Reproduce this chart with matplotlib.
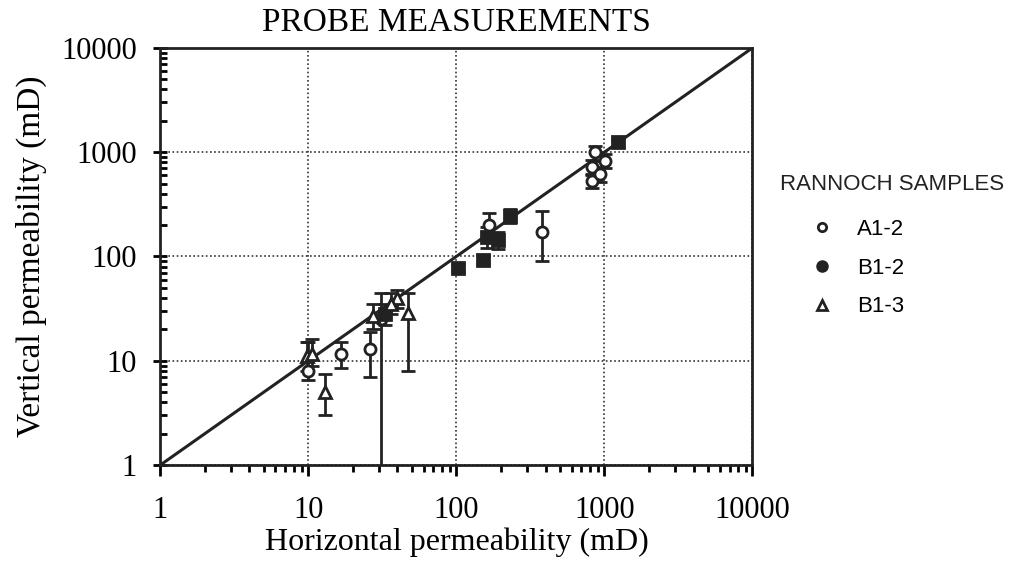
import numpy as np
import matplotlib.pyplot as plt
from matplotlib.lines import Line2D
from matplotlib.ticker import LogLocator, NullFormatter, FixedLocator

# horizontal k, vertical k, lower and upper bar ends (mD)
a12_x = [10, 16.5, 26, 31, 165, 380, 870, 1015, 830, 830, 930]
a12_y = [8, 11.5, 13, 25, 200, 170, 1000, 830, 720, 530, 620]
a12_lo = [6.5, 8.5, 7, 0.5, 150, 90, 820, 700, 600, 450, 520]
a12_hi = [15, 15, 19, 45, 260, 270, 1150, 950, 850, 620, 720]

b12_x = [103, 152, 160, 190, 232, 1240, 33]
b12_y = [78, 93, 152, 145, 245, 1250, 28]
b12_lo = [72, 85, 120, 118, 210, 1120, 22]
b12_hi = [84, 104, 190, 170, 285, 1350, 35]

b13_x = [9.8, 10.6, 13, 27.5, 40, 47, 36]
b13_y = [11, 11.5, 5, 27, 40, 29, 35]
b13_lo = [8, 9, 3, 20, 32, 8, 28]
b13_hi = [15, 16, 7.5, 35, 48, 45, 45]

ticks = [1, 10, 100, 1000, 10000]
tick_labels = ['1', '10', '100', '1000', '10000']

serif = 'Liberation Serif'
sans = 'Liberation Sans'

fig = plt.figure(figsize=(10.21, 5.63), dpi=100)
ax = fig.add_axes([0.157, 0.174, 0.580, 0.741])
ax.set_xscale('log')
ax.set_yscale('log')
ax.set_xlim(1, 10000)
ax.set_ylim(1, 10000)

ax.grid(True, which='major', linestyle=(0, (1, 1.5)), color='#333333', lw=1.2)
ax.plot([1, 10000], [1, 10000], color='#222222', lw=2.2, zorder=2)


def draw(x, y, lo, hi, marker, face):
    x = np.array(x)
    y = np.array(y)
    err = [y - np.array(lo), np.array(hi) - y]
    ax.errorbar(x, y, yerr=err, fmt='none', ecolor='#222222', elinewidth=2,
                capsize=5, capthick=2, zorder=3)
    ax.plot(x, y, linestyle='none', marker=marker, markersize=8,
            markerfacecolor=face, markeredgecolor='#222222', markeredgewidth=2, zorder=4)


draw(a12_x, a12_y, a12_lo, a12_hi, 'o', 'white')
draw(b12_x, b12_y, b12_lo, b12_hi, 's', '#222222')
draw(b13_x, b13_y, b13_lo, b13_hi, '^', 'white')

for sp in ax.spines.values():
    sp.set_linewidth(2)
    sp.set_color('#222222')

ax.xaxis.set_major_locator(FixedLocator(ticks))
ax.yaxis.set_major_locator(FixedLocator(ticks))
ax.xaxis.set_minor_locator(LogLocator(base=10, subs=np.arange(2, 10)))
ax.yaxis.set_minor_locator(LogLocator(base=10, subs=np.arange(2, 10)))
ax.xaxis.set_minor_formatter(NullFormatter())
ax.yaxis.set_minor_formatter(NullFormatter())
ax.set_xticklabels(tick_labels, fontsize=22, family=serif)
ax.set_yticklabels(tick_labels, fontsize=22, family=serif)
ax.tick_params(axis='x', which='major', direction='out', length=8, width=2, pad=14)
ax.tick_params(axis='x', which='minor', direction='out', length=5, width=2)
ax.tick_params(axis='y', which='major', direction='inout', length=10, width=2, pad=12)
ax.tick_params(axis='y', which='minor', direction='in', length=5, width=2)

ax.set_xlabel('Horizontal permeability (mD)', fontsize=23, family=serif, labelpad=2)
ax.set_ylabel('Vertical permeability (mD)', fontsize=24, family=serif, labelpad=10)
ax.set_title('PROBE MEASUREMENTS', fontsize=24, family=serif, pad=12)

fig.text(0.764, 0.662, 'RANNOCH SAMPLES', fontsize=16, family=sans, color='#222222')
handles = [
    Line2D([], [], linestyle='none', marker='o', markersize=6, markerfacecolor='white',
           markeredgecolor='#222222', markeredgewidth=2),
    Line2D([], [], linestyle='none', marker='o', markersize=8, markerfacecolor='#222222',
           markeredgecolor='#222222'),
    Line2D([], [], linestyle='none', marker='^', markersize=7, markerfacecolor='white',
           markeredgecolor='#222222', markeredgewidth=2),
]
fig.legend(handles, ['A1-2', 'B1-2', 'B1-3'], loc='upper left', bbox_to_anchor=(0.772, 0.647),
           frameon=False, prop={'family': sans, 'size': 16}, labelspacing=0.8,
           handletextpad=1.0, handlelength=1.2)

fig.savefig('out.png', dpi=100)
